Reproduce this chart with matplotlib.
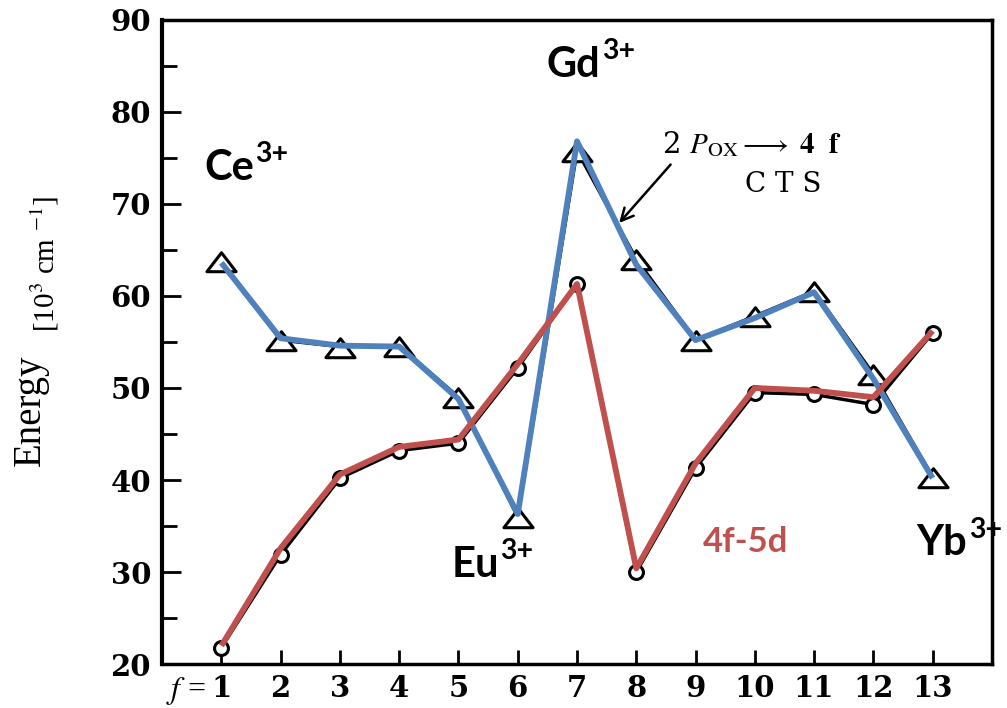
"""4f-5d 전이와 2p(O) -> 4f CTS 에너지 그래프 재현."""

import matplotlib

matplotlib.use("Agg")
import matplotlib.pyplot as plt
from matplotlib.path import Path
from matplotlib.ticker import MultipleLocator
from matplotlib.transforms import offset_copy

# f 전자 수
f_numbers = list(range(1, 14))

# 원본 스캔의 검은 표시점 (삼각형 = CTS, 원 = 4f-5d)
cts_marks = [63.8, 55.2, 54.5, 54.6, 49.0, 36.0, 75.8, 64.0, 55.2, 57.8, 60.5, 51.5, 40.3]
fd_marks = [21.8, 31.9, 40.2, 43.2, 44.0, 52.2, 61.3, 30.0, 41.3, 49.5, 49.3, 48.2, 56.0]

# 위에 덧그린 색 선
cts_line = [63.6, 55.4, 54.6, 54.5, 48.8, 36.3, 76.8, 63.4, 55.2, 57.6, 60.4, 51.0, 40.2]
fd_line = [22.0, 32.6, 40.6, 43.6, 44.4, 52.6, 61.3, 30.4, 41.8, 50.0, 49.7, 49.0, 56.2]

y_ticks = [20, 30, 40, 50, 60, 70, 80, 90]

BLUE = "#4f81bd"
RED = "#c0504d"

fig = plt.figure(figsize=(10.07, 7.08), dpi=100)
ax = fig.add_axes([0.161, 0.062, 0.824, 0.910])

tri = Path([(0, 0.6), (-1, -0.7), (1, -0.7), (0, 0.6)],
           [Path.MOVETO, Path.LINETO, Path.LINETO, Path.CLOSEPOLY])

ax.plot(f_numbers, cts_marks, color="black", lw=2.5, zorder=2)
ax.plot(f_numbers, cts_marks, ls="none", marker=tri, ms=21, mfc="white",
        mec="black", mew=2.2, zorder=3)
ax.plot(f_numbers, fd_marks, color="black", lw=2.5, zorder=2)
ax.plot(f_numbers, fd_marks, ls="none", marker="o", ms=10, mfc="white",
        mec="black", mew=2.2, zorder=3)

ax.plot(f_numbers, cts_line, color=BLUE, lw=4.2, solid_capstyle="butt", zorder=4)
ax.plot(f_numbers, fd_line, color=RED, lw=4.2, solid_capstyle="butt", zorder=5)

ax.set_xlim(0, 14)
ax.set_ylim(20, 90)
ax.set_xticks(f_numbers)
ax.set_yticks(y_ticks)
ax.yaxis.set_minor_locator(MultipleLocator(5))

for side in ["left", "right", "top", "bottom"]:
    ax.spines[side].set_linewidth(2.5)
ax.spines["left"].set_linewidth(3)

ax.tick_params(axis="y", which="major", direction="in", length=14, width=2, pad=8)
ax.tick_params(axis="y", which="minor", direction="in", length=11, width=2)
ax.tick_params(axis="x", direction="in", length=10, width=2, pad=7)

for lab in ax.get_xticklabels() + ax.get_yticklabels():
    lab.set_fontfamily("DejaVu Serif")
    lab.set_fontweight("bold")
    lab.set_fontsize(21)

ax.text(0.74, -0.053, "$f$ =", transform=ax.get_xaxis_transform(), ha="right",
        va="baseline", fontsize=23, family="Liberation Serif", math_fontfamily="stix")


def ion_label(x, y, base, size=30):
    """이온 기호 + 위첨자 전하."""
    t = ax.text(x, y, base, fontsize=size, fontweight="bold", family="Lato",
                va="baseline", ha="left", zorder=6, clip_on=False)
    fig.canvas.draw()
    bb = t.get_window_extent()
    x_disp, y_disp = ax.transData.transform((x, y))
    dx = (bb.x1 - x_disp) * 72 / fig.dpi + 1
    tr = offset_copy(ax.transData, fig=fig, x=dx, y=size * 0.42, units="points")
    ax.text(x, y, "3+", fontsize=size * 0.68, fontweight="bold", family="Lato",
            va="baseline", ha="left", transform=tr, zorder=6, clip_on=False)


ion_label(0.71, 72.6, "Ce")
ion_label(6.49, 83.8, "Gd")
ion_label(4.88, 29.5, "Eu")
ion_label(12.73, 31.8, "Yb")

ax.text(9.12, 32.2, "4f-5d", color=RED, fontsize=25, fontweight="bold",
        family="Lato", va="baseline", ha="left")

ax.text(8.43, 75.5, r"2 $P_{\mathrm{OX}} \longrightarrow\ \mathbf{4\ \ f}$", fontsize=21,
        family="DejaVu Serif", math_fontfamily="stix", va="baseline", ha="left")
ax.text(9.83, 71.3, "C T S", fontsize=20, family="DejaVu Serif", va="baseline", ha="left")
ax.annotate("", xy=(7.68, 67.7), xytext=(8.61, 74.5),
            arrowprops=dict(arrowstyle="->", lw=1.8, color="black",
                            mutation_scale=22))

# 세로축 제목
fig.text(0.030, 0.42, "Energy", rotation=90, fontsize=28, family="Liberation Serif",
         ha="center", va="center")
fig.text(0.044, 0.627, r"[10$^{3}$ cm $^{-1}$]", rotation=90, fontsize=21,
         family="Liberation Serif", math_fontfamily="stix", ha="center", va="center")

fig.savefig("out.png", dpi=100)
